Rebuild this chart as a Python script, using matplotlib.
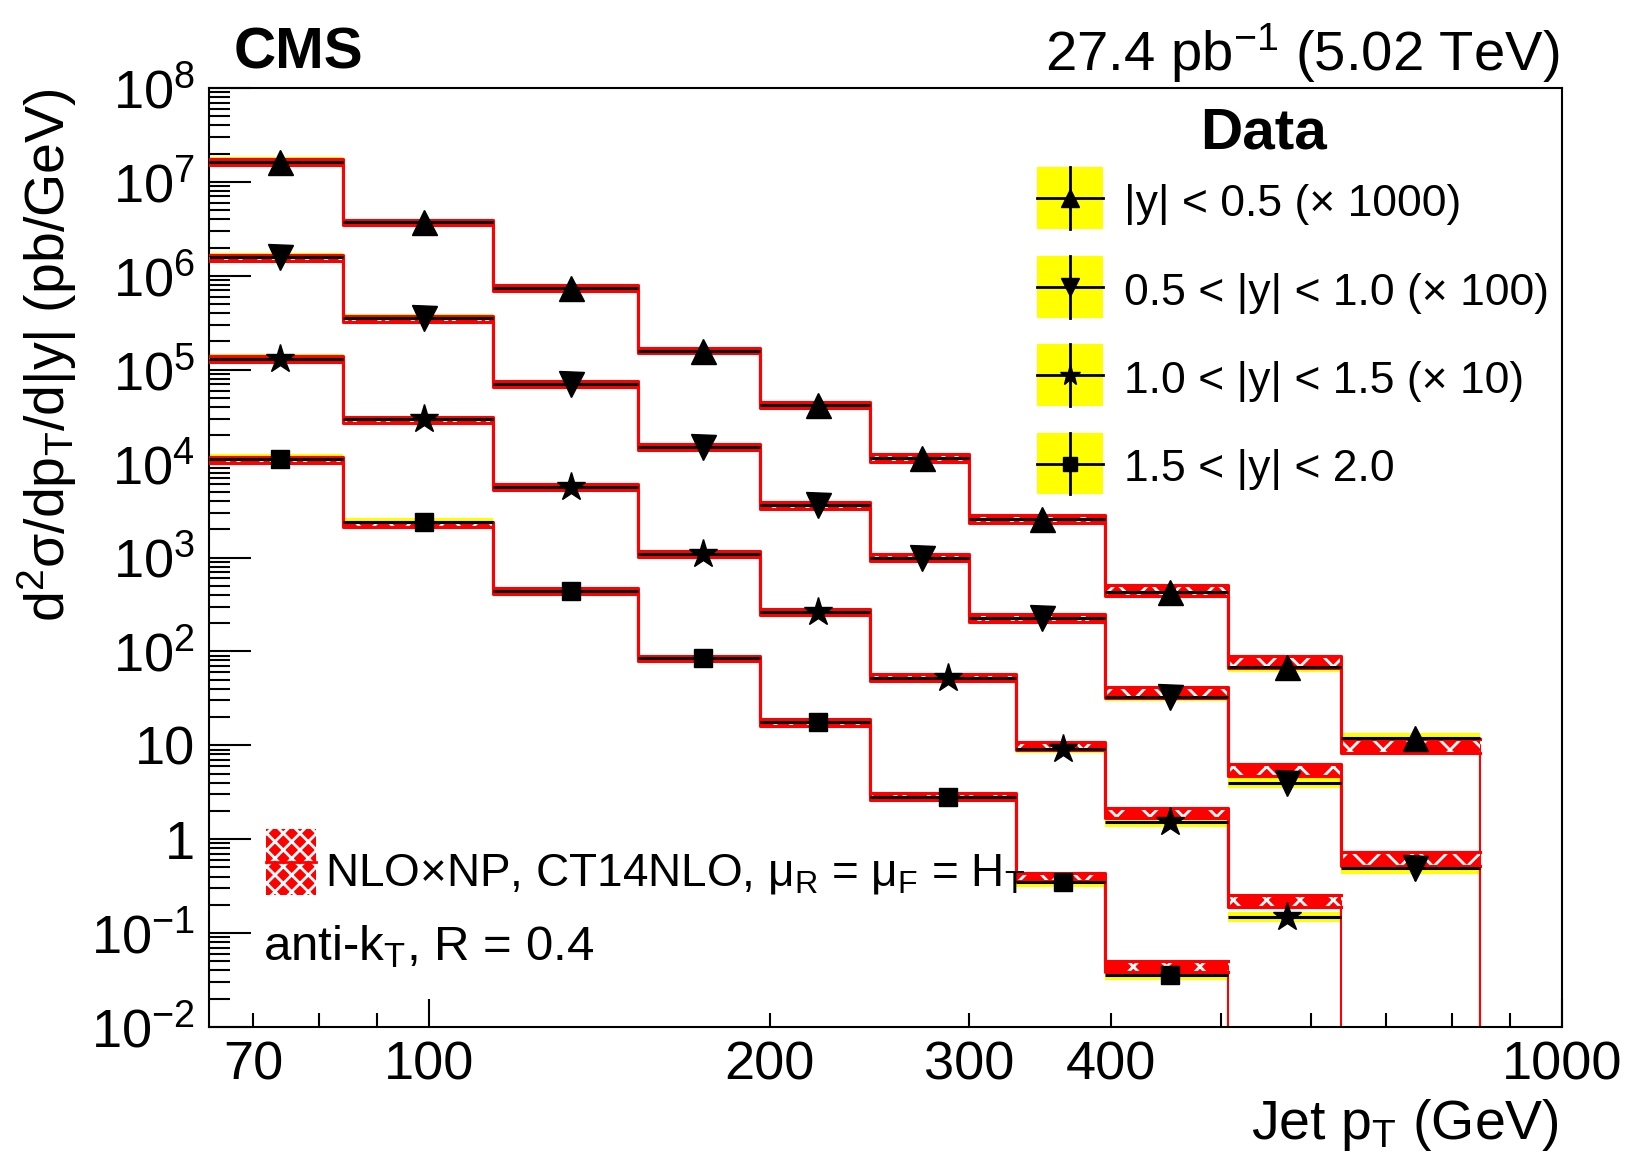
import numpy as np
import matplotlib
matplotlib.use('Agg')
import matplotlib.pyplot as plt
from matplotlib.patches import Rectangle
from matplotlib.lines import Line2D
from matplotlib.ticker import FixedLocator, FixedFormatter, NullFormatter, LogLocator

plt.rcParams['font.family'] = ['Liberation Sans', 'DejaVu Sans']
plt.rcParams['mathtext.fontset'] = 'custom'
plt.rcParams['mathtext.rm'] = 'Liberation Sans'
plt.rcParams['mathtext.it'] = 'Liberation Sans:italic'
plt.rcParams['mathtext.bf'] = 'Liberation Sans:bold'
plt.rcParams['mathtext.sf'] = 'Liberation Sans'
plt.rcParams['hatch.linewidth'] = 2.0

# ---------------- data ----------------
# bin edges: central rapidity (|y| < 1.0) and outer rapidity (|y| > 1.0)
pt_edges_central = [64, 84, 114, 153, 196, 245, 300, 395, 507, 638, 846]
pt_edges_outer = [64, 84, 114, 153, 196, 245, 330, 395, 507, 638]

labels = ["|y| < 0.5 (× 1000)", "0.5 < |y| < 1.0 (× 100)",
          "1.0 < |y| < 1.5 (× 10)", "1.5 < |y| < 2.0"]
markers = ['^', 'v', '*', 's']
marker_sizes = [18, 18, 21, 13]

# measured cross sections (already multiplied by the scale factors)
data_y0 = [1.64e7, 3.7e6, 7.4e5, 1.58e5, 4.2e4, 1.15e4, 2.57e3, 432, 69, 12.0]
data_y1 = [1.58e6, 3.55e5, 7.0e4, 1.5e4, 3.6e3, 1.0e3, 225, 33, 4.0, 0.49]
data_y2 = [1.31e5, 2.95e4, 5.6e3, 1.1e3, 265, 52, 9.2, 1.51, 0.150]
data_y3 = [1.12e4, 2.38e3, 443, 84.5, 17.5, 2.79, 0.346, 0.0358]

# relative statistical uncertainty
stat_y0 = [0.01, 0.01, 0.01, 0.01, 0.01, 0.01, 0.02, 0.03, 0.05, 0.10]
stat_y1 = [0.01, 0.01, 0.01, 0.01, 0.01, 0.01, 0.02, 0.04, 0.08, 0.25]
stat_y2 = [0.01, 0.01, 0.01, 0.01, 0.01, 0.02, 0.03, 0.06, 0.15]
stat_y3 = [0.01, 0.01, 0.01, 0.01, 0.02, 0.03, 0.06, 0.15]

# relative systematic uncertainty of data (yellow band)
syst_rel = [0.12, 0.10, 0.09, 0.09, 0.09, 0.10, 0.10, 0.11, 0.12, 0.13]

# NLOxNP theory (same scale factors)
theo_y0 = [1.62e7, 3.7e6, 7.4e5, 1.6e5, 4.2e4, 1.15e4, 2.6e3, 450, 78, 10.0]
theo_y1 = [1.55e6, 3.5e5, 7.0e4, 1.5e4, 3.6e3, 1.0e3, 228, 37, 5.5, 0.63]
theo_y2 = [1.3e5, 2.9e4, 5.6e3, 1.1e3, 265, 53, 9.8, 1.92, 0.222]
theo_y3 = [1.1e4, 2.25e3, 440, 84, 17.5, 2.85, 0.40, 0.0443]

# relative theory uncertainty (red band half-width)
theo_unc = [0.07, 0.07, 0.07, 0.07, 0.08, 0.09, 0.10, 0.13, 0.15, 0.17]

data_all = [data_y0, data_y1, data_y2, data_y3]
stat_all = [stat_y0, stat_y1, stat_y2, stat_y3]
theo_all = [theo_y0, theo_y1, theo_y2, theo_y3]
edges_all = [pt_edges_central, pt_edges_central, pt_edges_outer, pt_edges_outer]

# ---------------- figure ----------------
W, H = 1628, 1165
fig = plt.figure(figsize=(W / 100, H / 100), dpi=100)
axL, axR, axT, axB = 209, 1562, 88, 1027
ax = fig.add_axes([axL / W, 1 - axB / H, (axR - axL) / W, (axB - axT) / H])
ax.set_xscale('log')
ax.set_yscale('log')
ax.set_xlim(64, 1000)
ax.set_ylim(1e-2, 1e8)

for i in range(4):
    y = np.array(data_all[i])
    n = len(y)
    edges = np.array(edges_all[i][:n + 1], dtype=float)
    lo, hi = edges[:-1], edges[1:]
    centers = 0.5 * (lo + hi)
    s = np.array(syst_rel[:n])
    st = np.array(stat_all[i])
    t = np.array(theo_all[i])
    u = np.array(theo_unc[:n])

    # yellow data systematic band
    ax.bar(lo, y * 2 * s, width=hi - lo, bottom=y * (1 - s), align='edge',
           color='#ffff00', lw=0, zorder=1)

    # theory thin histogram line with drop at the end
    xs = np.repeat(edges, 2)[1:]
    ys = np.append(np.repeat(t, 2), 1e-6)
    ax.plot(xs, ys, color='red', lw=1.5, zorder=2)

    # theory band
    tlo = np.append(t * (1 - u), (t * (1 - u))[-1])
    thi = np.append(t * (1 + u), (t * (1 + u))[-1])
    ax.fill_between(edges, tlo, thi, step='post', facecolor='red',
                    edgecolor='white', hatch='x', lw=0, zorder=3)
    ax.step(edges, thi, where='post', color='red', lw=2.2, zorder=3)
    ax.step(edges, tlo, where='post', color='red', lw=2.2, zorder=3)

    # data
    ax.hlines(y, lo, hi, color='black', lw=2.2, zorder=4)
    ax.vlines(centers, y * (1 - st), y * (1 + st), color='black', lw=2, zorder=4)
    ax.plot(centers, y, ls='none', marker=markers[i], ms=marker_sizes[i],
            color='black', zorder=5)

# ---------------- axes styling ----------------
for sp in ax.spines.values():
    sp.set_linewidth(1.5)

ax.xaxis.set_major_locator(FixedLocator([100, 1000]))
ax.xaxis.set_major_formatter(FixedFormatter(['100', '1000']))
xminor = [70, 80, 90, 200, 300, 400, 500, 600, 700, 800, 900]
xminor_lab = ['70', '', '', '200', '300', '400', '', '', '', '', '']
ax.xaxis.set_minor_locator(FixedLocator(xminor))
ax.xaxis.set_minor_formatter(FixedFormatter(xminor_lab))

ydec = [10.0 ** k for k in range(-2, 9)]
ylab = []
for k in range(-2, 9):
    if k == 0:
        ylab.append('1')
    elif k == 1:
        ylab.append('10')
    else:
        ylab.append(r'$10^{%d}$' % k)
ax.yaxis.set_major_locator(FixedLocator(ydec))
ax.yaxis.set_major_formatter(FixedFormatter(ylab))
ax.yaxis.set_minor_locator(LogLocator(base=10, subs=np.arange(2, 10), numticks=100))
ax.yaxis.set_minor_formatter(NullFormatter())

ax.tick_params(axis='both', which='both', direction='in', top=False, right=False,
               width=1.5, labelsize=39, pad=10)
ax.tick_params(axis='y', which='major', length=30)
ax.tick_params(axis='y', which='minor', length=15)
ax.tick_params(axis='x', which='major', length=20)
ax.tick_params(axis='x', which='minor', length=10)

# ---------------- texts ----------------
def fx(px):
    return px / W

def fy(py):
    return 1 - py / H

fig.text(fx(234), fy(68.5), 'CMS', fontsize=42, fontweight='bold', ha='left', va='baseline')
fig.text(fx(1559), fy(70.6), r'27.4 pb$^{-1}$ (5.02 TeV)', fontsize=40.5, ha='right', va='baseline')
fig.text(fx(1559), fy(1139), r'Jet p$_{\rm T}$ (GeV)', fontsize=40, ha='right', va='baseline')
fig.text(fx(47), fy(88), r'd$^{2}$σ/dp$_{\rm T}$/d|y| (pb/GeV)', fontsize=40,
         rotation=90, ha='center', va='top')

# ---------------- legend (data) ----------------
def ax_x(px):
    return (px - axL) / (axR - axL)

def ax_y(py):
    return (axB - py) / (axB - axT)

fig.text(fx(1263), fy(148.5), 'Data', fontsize=42, fontweight='bold', ha='center', va='baseline')
row_centers = [198.2, 286.7, 375.2, 463.5]
bx0, bx1 = 1036.7, 1102.7
bh = 61.7
for i in range(4):
    cy = row_centers[i]
    ax.add_patch(Rectangle((ax_x(bx0), ax_y(cy + bh / 2)), ax_x(bx1) - ax_x(bx0),
                           bh / (axB - axT), transform=ax.transAxes,
                           facecolor='#ffff00', lw=0, clip_on=False, zorder=6))
    cx = 0.5 * (bx0 + bx1)
    ax.add_line(Line2D([ax_x(bx0), ax_x(bx1)], [ax_y(cy), ax_y(cy)], transform=ax.transAxes,
                       color='black', lw=2, clip_on=False, zorder=7))
    ax.add_line(Line2D([ax_x(cx), ax_x(cx)], [ax_y(cy - bh / 2), ax_y(cy + bh / 2)],
                       transform=ax.transAxes, color='black', lw=2, clip_on=False, zorder=7))
    ax.add_line(Line2D([ax_x(cx)], [ax_y(cy)], transform=ax.transAxes, ls='none',
                       marker=markers[i], ms=marker_sizes[i] * 0.75, color='black',
                       clip_on=False, zorder=8))
    ax.text(ax_x(1124.5), ax_y(cy + 6.5), labels[i], transform=ax.transAxes, fontsize=32,
            ha='left', va='center', zorder=8)

# ---------------- legend (theory) ----------------
tb_x0, tb_x1, tb_y0, tb_y1 = 265.8, 315.6, 828.6, 895.0
ax.add_patch(Rectangle((ax_x(tb_x0), ax_y(tb_y1)), ax_x(tb_x1) - ax_x(tb_x0),
                       ax_y(tb_y0) - ax_y(tb_y1), transform=ax.transAxes,
                       facecolor='red', edgecolor='white', hatch='xx', lw=0, zorder=6))
ax.add_line(Line2D([ax_x(tb_x0), ax_x(tb_x1)], [ax_y(861.8), ax_y(861.8)],
                   transform=ax.transAxes, color='red', lw=2, zorder=7))
ax.text(ax_x(325), ax_y(885.7), r'NLO×NP, CT14NLO, μ$_{\rm R}$ = μ$_{\rm F}$ = H$_{\rm T}$',
        transform=ax.transAxes, fontsize=33, ha='left', va='baseline', zorder=8)
ax.text(ax_x(262.7), ax_y(960.4), r'anti-k$_{\rm T}$, R = 0.4', transform=ax.transAxes,
        fontsize=35.5, ha='left', va='baseline', zorder=8)

fig.savefig('out.png', dpi=100)
